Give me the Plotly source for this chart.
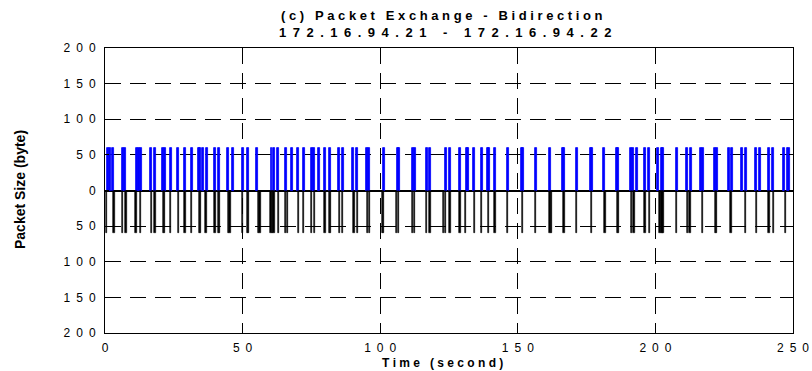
import plotly.graph_objects as go

# Time (second) of packets sent 172.16.94.21 -> 172.16.94.22 (blue, upward)
blue_t = [1.2, 1.7, 3.0, 6.4, 7.4, 11.5, 12.2, 13.0, 16.7, 18.2, 21.2, 21.8, 23.9, 26.6,
          29.1, 31.5, 34.0, 34.5, 35.7, 37.0, 40.0, 41.4, 44.8, 46.6, 50.0, 52.0, 55.3,
          60.5, 61.5, 63.0, 65.7, 68.1, 70.2, 72.2, 75.1, 75.9, 77.8, 79.9, 81.7, 85.1,
          86.6, 90.0, 91.7, 95.1, 96.0, 101.5, 106.3, 106.8, 112.0, 112.5, 116.9, 118.1,
          123.8, 125.4, 129.0, 131.5, 131.9, 134.2, 136.9, 139.1, 139.5, 141.7, 146.3,
          151.4, 151.8, 156.5, 161.7, 166.3, 166.7, 171.4, 176.6, 177.0, 181.3, 186.1,
          186.5, 191.0, 191.8, 193.2, 196.2, 197.8, 201.1, 202.3, 202.9, 207.7, 211.4,
          212.9, 216.6, 217.4, 221.7, 222.3, 226.7, 227.7, 231.4, 232.8, 236.4, 238.1,
          241.3, 242.8, 246.8, 248.0, 248.5]
# Time (second) of packets sent 172.16.94.22 -> 172.16.94.21 (black, downward)
black_t = [0.6, 3.3, 6.4, 7.6, 11.3, 13.0, 17.0, 18.2, 21.2, 21.6, 23.9, 26.6, 29.1, 31.5,
           34.3, 34.6, 36.7, 40.0, 41.2, 41.6, 44.8, 45.4, 49.9, 51.9, 52.2, 55.7, 56.3,
           60.3, 61.0, 61.4, 63.0, 65.7, 66.4, 70.2, 72.1, 75.1, 76.0, 79.9, 81.7, 82.0,
           85.1, 86.3, 90.5, 91.7, 95.3, 96.0, 100.8, 101.1, 106.0, 106.6, 111.8, 112.5,
           116.9, 118.1, 122.9, 123.8, 125.4, 129.0, 131.1, 134.2, 136.9, 139.3, 141.7,
           146.3, 151.6, 156.5, 161.7, 162.2, 166.8, 171.4, 176.8, 181.7, 186.3, 186.7,
           191.4, 192.2, 196.2, 197.8, 201.7, 202.4, 202.8, 207.7, 211.7, 212.6, 217.0,
           221.7, 222.3, 227.5, 232.8, 236.8, 241.3, 242.8, 247.3]
# Packet sizes (byte)
blue_size = [60, 60, 60, 60, 60, 60, 60, 60, 60, 60, 60, 60, 60, 60, 60, 60, 60, 60, 60, 60,
             60, 60, 60, 60, 60, 60, 60, 60, 60, 60, 60, 60, 60, 60, 60, 60, 60, 60, 60, 60,
             60, 60, 60, 60, 60, 60, 60, 60, 60, 60, 60, 60, 60, 60, 60, 60, 60, 60, 60, 60,
             60, 60, 60, 60, 60, 60, 60, 60, 60, 60, 60, 60, 60, 60, 60, 60, 60, 60, 60, 60,
             60, 60, 60, 60, 60, 60, 60, 60, 60, 60, 60, 60, 60, 60, 60, 60, 60, 60, 60, 60,
             60]
black_size = [-60, -60, -60, -60, -60, -60, -60, -60, -60, -60, -60, -60, -60, -60, -60,
              -60, -60, -60, -60, -60, -60, -60, -60, -60, -60, -60, -60, -60, -60, -60,
              -60, -60, -60, -60, -60, -60, -60, -60, -60, -60, -60, -60, -60, -60, -60,
              -60, -60, -60, -60, -60, -60, -60, -60, -60, -60, -60, -60, -60, -60, -60,
              -60, -60, -60, -60, -60, -60, -60, -60, -60, -60, -60, -60, -60, -60, -60,
              -60, -60, -60, -60, -60, -60, -60, -60, -60, -60, -60, -60, -60, -60, -60,
              -60, -60, -60]

y_tickvals = [-200, -150, -100, -50, 0, 50, 100, 150, 200]
y_ticklabels = ["200", "150", "100", "50", "0", "50", "100", "150", "200"]
x_tickvals = [0, 50, 100, 150, 200, 250]
x_ticklabels = ["0", "50", "100", "150", "200", "250"]
title_line1 = "(c) Packet Exchange - Bidirection"
title_line2 = "172.16.94.21 - 172.16.94.22"
x_title = "Time (second)"
y_title = "Packet Size (byte)"

EN = "\u2002"    # en space, mimics the letter-spaced typesetting
NB = "\u00a0"    # non-breaking space (not collapsed)


def spaced(s, gap):
    return gap.join(NB if c == " " else c for c in s)


FONT = "Liberation Sans, Arial, sans-serif"
W, H = 812, 371
L, T = 105, 48
R = W - 793
B = H - 333
PW, PH = W - L - R, H - T - B

fig = go.Figure()
fig.add_trace(go.Bar(x=blue_t, y=blue_size, width=0.7,
                     marker=dict(color="#0000ff", line=dict(width=0.8, color="#0000ff")),
                     showlegend=False))
fig.add_trace(go.Bar(x=black_t, y=black_size, width=0.45,
                     marker=dict(color="#000000", line=dict(width=0.6, color="#000000")),
                     showlegend=False))


def px_x(p):
    return (p - L) / PW


def px_y(p):
    return (H - B - p) / PH


fig.update_layout(
    width=W, height=H,
    margin=dict(l=L, r=R, t=T, b=B, autoexpand=False),
    paper_bgcolor="white", plot_bgcolor="white",
    barmode="overlay", bargap=0,
    font=dict(family=FONT, size=12, color="black"),
    annotations=[
        dict(text="<b>" + spaced(title_line1, NB) + "</b>",
             xref="paper", yref="paper", x=px_x(442), y=px_y(15), xanchor="center", yanchor="middle",
             showarrow=False, font=dict(family=FONT, size=13)),
        dict(text="<b>" + spaced(title_line2, EN) + "</b>",
             xref="paper", yref="paper", x=px_x(445), y=px_y(32), xanchor="center", yanchor="middle",
             showarrow=False, font=dict(family=FONT, size=13)),
        dict(text="<b>" + spaced(x_title, NB) + "</b>",
             xref="paper", yref="paper", x=px_x(442), y=px_y(363), xanchor="center", yanchor="middle",
             showarrow=False, font=dict(family=FONT, size=12)),
        dict(text="<b>" + y_title + "</b>", textangle=-90,
             xref="paper", yref="paper", x=px_x(20), y=px_y(190), xanchor="center", yanchor="middle",
             showarrow=False, font=dict(family=FONT, size=14)),
    ],
)
fig.update_xaxes(
    range=[0, 250], tickvals=x_tickvals, ticktext=[spaced(t, EN) for t in x_ticklabels],
    automargin=False,
    showline=True, linecolor="black", linewidth=1, mirror="allticks",
    ticks="inside", ticklen=4, tickcolor="black", ticklabeloverflow="allow", ticklabelstandoff=4,
    showgrid=True, gridcolor="black", gridwidth=1, griddash="16px,9px",
    zeroline=False,
    tickfont=dict(family=FONT, size=12),
)
fig.update_yaxes(
    range=[-200, 200], tickvals=y_tickvals, ticktext=[spaced(t, EN) for t in y_ticklabels],
    automargin=False,
    showline=True, linecolor="black", linewidth=1, mirror="allticks",
    ticks="inside", ticklen=4, tickcolor="black", ticklabelstandoff=6,
    showgrid=True, gridcolor="black", gridwidth=1, griddash="16px,9px",
    zeroline=True, zerolinecolor="black", zerolinewidth=2,
    tickfont=dict(family=FONT, size=12),
)

fig.write_html("out.html", config={"displayModeBar": False},
               post_script="document.body.style.margin='0';document.body.style.overflow='hidden';")
